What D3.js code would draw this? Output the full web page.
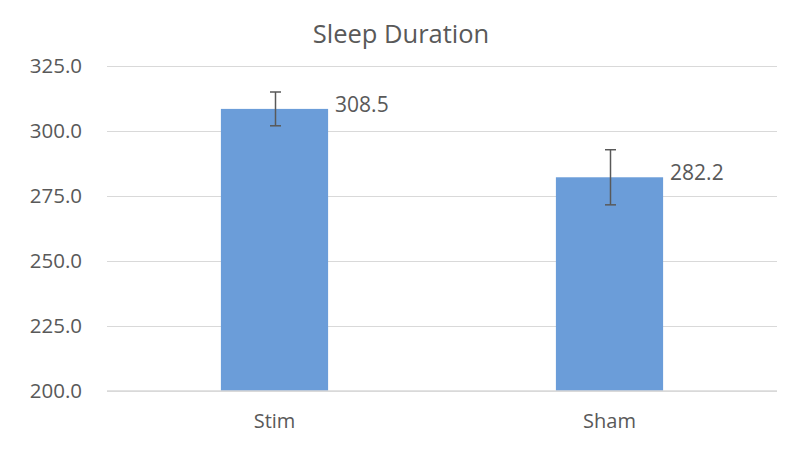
<!DOCTYPE html>
<html><head><meta charset="utf-8">
<script src="https://cdn.jsdelivr.net/npm/d3@7"></script>
<style>body{margin:0;background:#fff}text{font-family:"Open Sans","Noto Sans",sans-serif;fill:#595959}</style>
</head><body>
<svg id="c" width="812" height="456"></svg>
<script>
const categories = ["Stim", "Sham"];
const values = [308.5, 282.2];
const errors = [6.5, 10.6];
const yTicks = [200, 225, 250, 275, 300, 325];
const title = "Sleep Duration";

const svg = d3.select("#c");
const x = d3.scaleBand().domain(categories).range([107, 777]).padding(0);
const y = d3.scaleLinear().domain([200, 325]).range([391, 66]);
const barW = x.bandwidth() * 0.32;

svg.append("text").attr("x", 401).attr("y", 43).attr("text-anchor", "middle")
  .attr("font-size", 25.5).text(title);

const ya = svg.append("g").attr("transform", "translate(107,0)")
  .call(d3.axisLeft(y).tickValues(yTicks).tickSize(-670).tickPadding(25).tickFormat(d3.format(".1f")));
ya.select(".domain").remove();
ya.selectAll("line").attr("stroke", "#d9d9d9").attr("stroke-width", 1);
ya.selectAll("text").attr("font-size", 20.5).style("fill", "#595959").attr("font-family", "Open Sans");

const xa = svg.append("g").attr("transform", "translate(0,391)")
  .call(d3.axisBottom(x).tickSize(0).tickPadding(23));
xa.select(".domain").remove();
xa.selectAll("text").attr("font-size", 20).style("fill", "#595959").attr("font-family", "Open Sans");

const g = svg.append("g");
g.selectAll("rect").data(categories).join("rect")
  .attr("x", d => x(d) + x.bandwidth()/2 - barW/2)
  .attr("width", barW)
  .attr("y", (d, i) => y(values[i]))
  .attr("height", (d, i) => y(200) - y(values[i]))
  .attr("fill", "#6b9dd9");

svg.append("line").attr("x1", 107).attr("x2", 777).attr("y1", y(200)).attr("y2", y(200))
  .attr("stroke", "#d9d9d9").attr("stroke-width", 1.5);

categories.forEach((c, i) => {
  const cx = x(c) + x.bandwidth()/2 + 1;
  const t = y(values[i] + errors[i]), b = y(values[i] - errors[i]);
  const eg = svg.append("g").attr("stroke", "#595959").attr("stroke-width", 1.5);
  eg.append("line").attr("x1", cx).attr("x2", cx).attr("y1", t).attr("y2", b);
  eg.append("line").attr("x1", cx - 5.5).attr("x2", cx + 5.5).attr("y1", t).attr("y2", t);
  eg.append("line").attr("x1", cx - 5.5).attr("x2", cx + 5.5).attr("y1", b).attr("y2", b);
  svg.append("text").attr("x", x(c) + x.bandwidth()/2 + barW/2 + 7)
    .attr("y", y(values[i]) + 3).attr("font-size", 21).text(values[i].toFixed(1));
});
</script>
</body></html>
